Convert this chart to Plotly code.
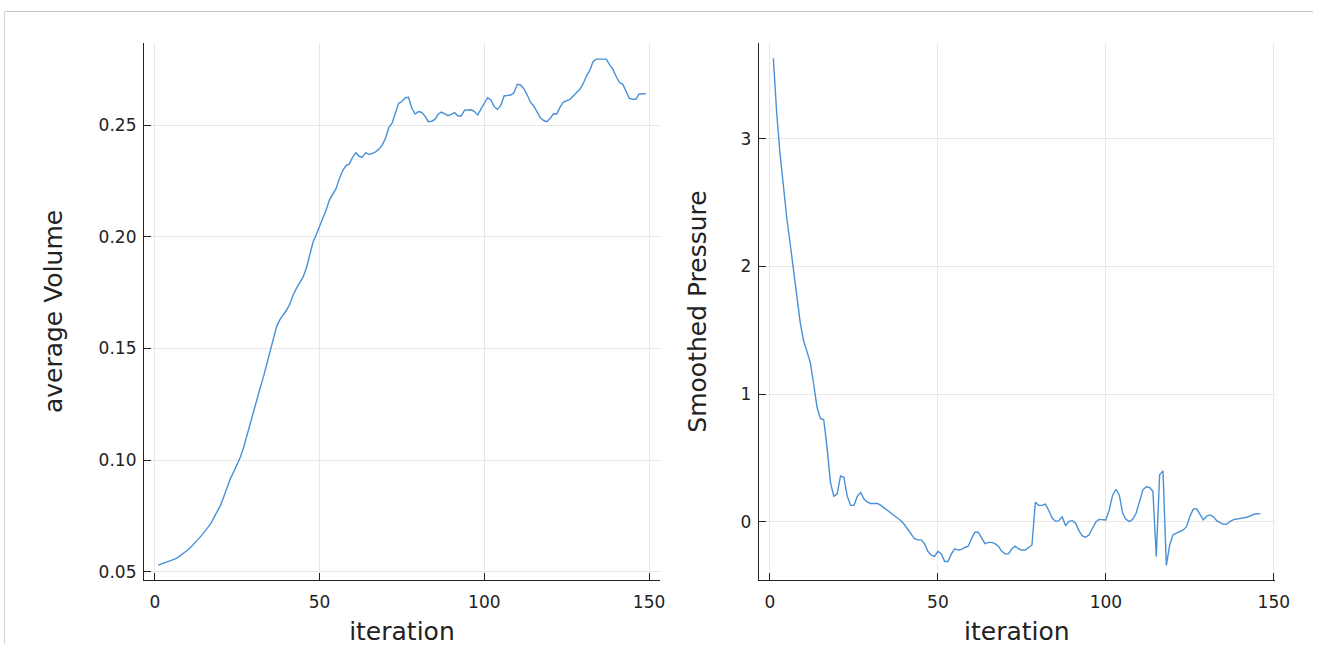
import plotly.graph_objects as go

# ---- data ----
vol_iter = list(range(1, 150))
avg_volume = [
    0.0530, 0.0535, 0.0540, 0.0545, 0.0550, 0.0557, 0.0565, 0.0575, 0.0586, 0.0598,
    0.0612, 0.0627, 0.0643, 0.0660, 0.0678, 0.0697, 0.0717, 0.0745, 0.0770, 0.0800,
    0.0840, 0.0885, 0.0920, 0.0950, 0.0980, 0.1015, 0.1060, 0.1115, 0.1170, 0.1225,
    0.1275, 0.1325, 0.1375, 0.1430, 0.1485, 0.1545, 0.1600, 0.1630, 0.1650, 0.1672,
    0.1700, 0.1740, 0.1770, 0.1795, 0.1820, 0.1860, 0.1915, 0.1975, 0.2010, 0.2045,
    0.2080, 0.2120, 0.2165, 0.2190, 0.2215, 0.2260, 0.2295, 0.2318, 0.2325, 0.2355,
    0.2376, 0.2360, 0.2356, 0.2376, 0.2368, 0.2373, 0.2380, 0.2392, 0.2410, 0.2440,
    0.2488, 0.2508, 0.2555, 0.2597, 0.2605, 0.2622, 0.2624, 0.2575, 0.2549, 0.2560,
    0.2556, 0.2540, 0.2515, 0.2517, 0.2525, 0.2548, 0.2558, 0.2548, 0.2542, 0.2548,
    0.2555, 0.2540, 0.2540, 0.2566, 0.2567, 0.2568, 0.2560, 0.2545, 0.2572, 0.2600,
    0.2622, 0.2612, 0.2582, 0.2570, 0.2588, 0.2630, 0.2632, 0.2634, 0.2644, 0.2682,
    0.2679, 0.2663, 0.2635, 0.2602, 0.2585, 0.2558, 0.2532, 0.2520, 0.2515, 0.2530,
    0.2550, 0.2549, 0.2580, 0.2603, 0.2608, 0.2615, 0.2630, 0.2645, 0.2660, 0.2685,
    0.2719, 0.2743, 0.2783, 0.2795, 0.2796, 0.2796, 0.2795, 0.2770, 0.2750, 0.2718,
    0.2690, 0.2683, 0.2652, 0.2620, 0.2615, 0.2615, 0.2639, 0.2639, 0.2640,
]

pres_iter = list(range(1, 147))
smoothed_pressure = [
    3.63, 3.20, 2.88, 2.60, 2.38, 2.18, 1.98, 1.77, 1.56, 1.42,
    1.33, 1.25, 1.08, 0.90, 0.81, 0.80, 0.58, 0.31, 0.20, 0.22,
    0.36, 0.35, 0.20, 0.13, 0.13, 0.20, 0.23, 0.18, 0.155, 0.145,
    0.145, 0.145, 0.13, 0.11, 0.09, 0.07, 0.055, 0.035, 0.01, -0.02,
    -0.06, -0.10, -0.13, -0.14, -0.14, -0.17, -0.23, -0.26, -0.27, -0.23,
    -0.25, -0.31, -0.31, -0.25, -0.21, -0.22, -0.215, -0.20, -0.19, -0.13,
    -0.08, -0.08, -0.13, -0.17, -0.16, -0.16, -0.17, -0.19, -0.23, -0.25,
    -0.25, -0.21, -0.19, -0.21, -0.22, -0.22, -0.20, -0.18, 0.155, 0.13,
    0.13, 0.14, 0.09, 0.03, 0.005, 0.01, 0.04, -0.03, 0.005, 0.01,
    -0.01, -0.07, -0.11, -0.12, -0.10, -0.05, 0.0, 0.02, 0.02, 0.016,
    0.094, 0.21, 0.256, 0.21, 0.068, 0.021, 0.003, 0.021, 0.068, 0.17,
    0.25, 0.275, 0.27, 0.24, -0.27, 0.37, 0.40, -0.34, -0.18, -0.10,
    -0.09, -0.075, -0.063, -0.037, 0.042, 0.10, 0.104, 0.055, 0.016, 0.045,
    0.055, 0.04, 0.01, -0.005, -0.018, -0.016, 0.005, 0.018, 0.022, 0.026,
    0.032, 0.037, 0.048, 0.06, 0.065, 0.063,
]

x_ticks = [0, 50, 100, 150]
vol_ticks = [0.05, 0.10, 0.15, 0.20, 0.25]
pres_ticks = [0, 1, 2, 3]

W, H = 1328, 646
# the captured picture comes out slightly squeezed; compensate layout positions
SX, SY = 1343.0 / 1328.0, 1.003
LINE = "#4a90d6"
FONT = "DejaVu Sans"

fig = go.Figure()
fig.add_trace(go.Scatter(x=vol_iter, y=avg_volume, mode="lines",
                         line=dict(color=LINE, width=1.4), xaxis="x", yaxis="y",
                         showlegend=False))
fig.add_trace(go.Scatter(x=pres_iter, y=smoothed_pressure, mode="lines",
                         line=dict(color=LINE, width=1.4), xaxis="x2", yaxis="y2",
                         showlegend=False))

def px_x(p):
    return min(p * SX / W, 1.0)

def px_y(p):
    return max(1 - p * SY / H, 0.0)

axis_common = dict(
    showline=True, linecolor="#222", linewidth=1.2,
    ticks="inside", ticklen=7, tickwidth=1.2, tickcolor="#222",
    showgrid=True, gridcolor="#e8e8e8", gridwidth=1,
    zeroline=False, mirror=False,
    tickfont=dict(family=FONT, size=17, color="#222"),
)
title_font = dict(family=FONT, size=25, color="#222")

fig.update_layout(
    width=W, height=H, autosize=False,
    margin=dict(l=0, r=0, t=0, b=0),
    paper_bgcolor="white", plot_bgcolor="white",
    xaxis=dict(domain=[px_x(144), px_x(660)], range=[-3.3, 153.3],
               tickvals=x_ticks, anchor="y", ticklabelstandoff=7,
               title=dict(text="iteration", font=title_font, standoff=12),
               **axis_common),
    yaxis=dict(domain=[px_y(580), px_y(43)], range=[0.0464, 0.2867],
               tickvals=vol_ticks, tickformat=".2f", anchor="x", ticklabelstandoff=3,
               title=dict(text="average Volume", font=title_font, standoff=28),
               **axis_common),
    xaxis2=dict(domain=[px_x(759), px_x(1275)], range=[-3.3, 150.3],
                tickvals=x_ticks, anchor="y2", ticklabelstandoff=7,
                title=dict(text="iteration", font=title_font, standoff=12),
                **axis_common),
    yaxis2=dict(domain=[px_y(580), px_y(43)], range=[-0.454, 3.75],
                tickvals=pres_ticks, anchor="x2", ticklabelstandoff=3,
                title=dict(text="Smoothed Pressure", font=title_font, standoff=26),
                **axis_common),
    shapes=[
        dict(type="line", xref="paper", yref="paper",
             x0=px_x(4.5), x1=1.0, y0=px_y(11.5), y1=px_y(11.5),
             line=dict(color="#c4c4c4", width=1.2)),
        dict(type="line", xref="paper", yref="paper",
             x0=px_x(4.5), x1=px_x(4.5), y0=px_y(11.5), y1=0.0,
             line=dict(color="#d4d4d4", width=1)),
    ],
)

fig.write_html(
    "out.html",
    config={"responsive": False, "displayModeBar": False},
    post_script="document.body.style.margin='0px';document.body.style.padding='0px';"
                "document.documentElement.style.overflow='hidden';"
                "document.body.style.overflow='hidden';",
)
